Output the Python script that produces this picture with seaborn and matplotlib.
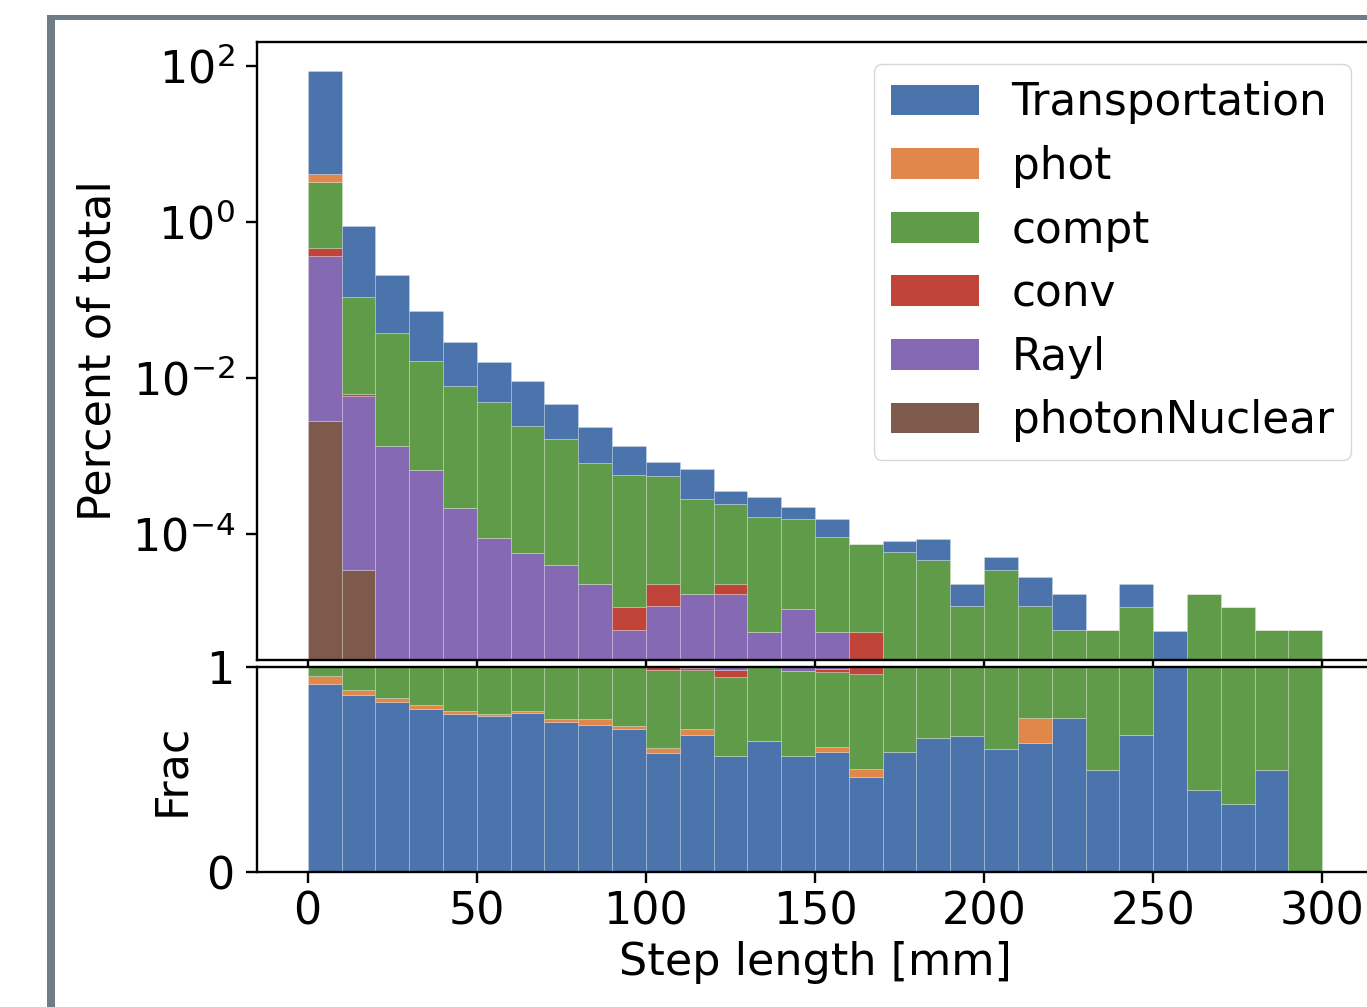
import numpy as np
import pandas as pd
import matplotlib
matplotlib.use("Agg")
import matplotlib.pyplot as plt
from matplotlib.patches import Patch, Rectangle
import seaborn as sns

# step length bins [mm]
bin_edges = list(range(0, 310, 10))
bin_left = bin_edges[:-1]

processes = ["Transportation", "phot", "compt", "conv", "Rayl", "photonNuclear"]
colors = ["#4a74ab", "#e2874a", "#5f9b48", "#c1443a", "#8569b2", "#7e5a4c"]

# top panel: percent of total steps per process and bin
pct_transportation = [82.8, 0.79, 0.172, 0.0554, 0.0211, 0.0114, 0.00665, 0.00305, 0.00153, 0.00077,
                      0.00027, 0.00040, 0.00012, 0.000134, 0.000062, 0.000062, 0.0, 0.000022, 0.000040, 0.000011,
                      0.000016, 0.000016, 0.000011, 0.0, 0.0000115, 0.0000057, 0.0, 0.0, 0.0, 0.0]
pct_phot = [0.9] + [0.0] * 29
pct_compt = [2.83, 0.104, 0.0367, 0.0159, 0.0077, 0.0048, 0.00239, 0.00161, 0.000787, 0.000568,
             0.000537, 0.000263, 0.000217, 0.000160, 0.000147, 0.000087, 0.000070, 0.000059, 0.000047, 0.000012,
             0.000035, 0.000012, 0.0000058, 0.0000058, 0.0000115, 0.0, 0.000017, 0.0000115, 0.0000058, 0.0000058]
pct_conv = [0.10, 0.00035, 0, 0, 0, 0, 0, 0, 0, 0.0000056,
            0.000011, 0, 0.000006, 0, 0, 0, 0.0000056, 0, 0, 0,
            0, 0, 0, 0, 0, 0, 0, 0, 0, 0]
pct_rayl = [0.367, 0.00587, 0.00135, 0.00066, 0.000214, 0.000089, 0.000057, 0.000040, 0.000023, 0.0000059,
            0.000012, 0.000017, 0.000017, 0.0000056, 0.000011, 0.0000056, 0, 0, 0, 0,
            0, 0, 0, 0, 0, 0, 0, 0, 0, 0]
pct_photonnuclear = [0.0028, 0.000035] + [0.0] * 28

# bottom panel: fraction per process and bin
frac_transportation = [0.917, 0.864, 0.830, 0.797, 0.769, 0.760, 0.774, 0.731, 0.719, 0.698,
                       0.582, 0.670, 0.565, 0.641, 0.565, 0.587, 0.463, 0.587, 0.653, 0.664,
                       0.600, 0.628, 0.752, 0.500, 0.670, 1.000, 0.400, 0.330, 0.500, 0.000]
frac_phot = [0.038, 0.025, 0.017, 0.018, 0.017, 0.013, 0.012, 0.013, 0.025, 0.013,
             0.021, 0.030, 0, 0, 0, 0.025, 0.038, 0, 0, 0,
             0, 0.124, 0, 0, 0, 0, 0, 0, 0, 0]
frac_compt = [0.045, 0.111, 0.153, 0.185, 0.214, 0.227, 0.214, 0.256, 0.256, 0.289,
              0.384, 0.286, 0.387, 0.359, 0.415, 0.363, 0.466, 0.413, 0.347, 0.336,
              0.400, 0.248, 0.248, 0.500, 0.330, 0.0, 0.600, 0.670, 0.500, 1.000]
frac_conv = [0, 0, 0, 0, 0, 0, 0, 0, 0, 0,
             0.013, 0.008, 0.033, 0, 0, 0.015, 0.033, 0, 0, 0,
             0, 0, 0, 0, 0, 0, 0, 0, 0, 0]
frac_rayl = [0, 0, 0, 0, 0, 0, 0, 0, 0, 0,
             0, 0.006, 0.015, 0, 0.020, 0.010, 0, 0, 0, 0,
             0, 0, 0, 0, 0, 0, 0, 0, 0, 0]
frac_photonnuclear = [0.0] * 30


def long_table(columns):
    rows = []
    for name, vals in zip(processes, columns):
        for x, v in zip(bin_left, vals):
            rows.append({"step": x, "process": name, "value": v})
    return pd.DataFrame(rows)


df_pct = long_table([pct_transportation, pct_phot, pct_compt, pct_conv, pct_rayl, pct_photonnuclear])
df_frac = long_table([frac_transportation, frac_phot, frac_compt, frac_conv, frac_rayl, frac_photonnuclear])

FS = 32
plt.rcParams.update({
    "font.family": "DejaVu Sans",
    "font.size": FS,
    "axes.linewidth": 1.7,
    "axes.labelpad": 9,
    "xtick.major.size": 8, "ytick.major.size": 8,
    "xtick.major.width": 1.7, "ytick.major.width": 1.7,
    "xtick.major.pad": 5, "ytick.major.pad": 8,
    "xtick.labelsize": 32, "ytick.labelsize": 32,
})

W, H = 1367, 1007
fig = plt.figure(figsize=(W / 100, H / 100), dpi=100)
ax_top = fig.add_axes([257 / W, 1 - 660 / H, (1373 - 257) / W, (660 - 42) / H])
ax_bot = fig.add_axes([257 / W, 1 - 872 / H, (1373 - 257) / W, (872 - 667) / H])

palette = dict(zip(processes, colors))

# top: stacked, first hue level ends up on top
sns.histplot(data=df_pct, x="step", weights="value", hue="process", hue_order=processes,
             multiple="stack", bins=bin_edges, palette=palette, alpha=1,
             edgecolor=(1, 1, 1, 0.25), linewidth=0.6, legend=False, ax=ax_top)
ax_top.set_yscale("log")
ax_top.set_ylim(10 ** -5.615, 10 ** 2.31)
ax_top.set_yticks([1e-4, 1e-2, 1, 1e2])
ax_top.minorticks_off()
ax_top.set_xlim(-15, 315)
ax_top.set_xticks(range(0, 301, 50))
ax_top.tick_params(labelbottom=False)
ax_top.set_xlabel("")
ax_top.set_ylabel("Percent of total")

handles = [Patch(facecolor=c, label=p) for p, c in zip(processes, colors)]
ax_top.legend(handles=handles, loc="upper right", fontsize=31.5, labelspacing=0.47,
              handletextpad=0.75)

# bottom: fractions, Transportation at the bottom
sns.histplot(data=df_frac, x="step", weights="value", hue="process", hue_order=processes[::-1],
             multiple="fill", bins=bin_edges, palette=palette, alpha=1,
             edgecolor=(1, 1, 1, 0.25), linewidth=0.6, legend=False, ax=ax_bot)
ax_bot.set_xlim(-15, 315)
ax_bot.set_ylim(0, 1)
ax_bot.set_xticks(range(0, 301, 50))
ax_bot.set_yticks([0, 1])
ax_bot.set_ylabel("Frac", labelpad=10)
ax_bot.set_xlabel("Step length [mm]", labelpad=6)

# screenshot frame
grey = "#6f7b85"
fig.add_artist(Rectangle((47 / W, 0), 8 / W, 1 - 15 / H, transform=fig.transFigure,
                         facecolor=grey, edgecolor="none"))
fig.add_artist(Rectangle((47 / W, 1 - 20 / H), 1, 5 / H, transform=fig.transFigure,
                         facecolor=grey, edgecolor="none"))

fig.savefig("out.png", dpi=100)
